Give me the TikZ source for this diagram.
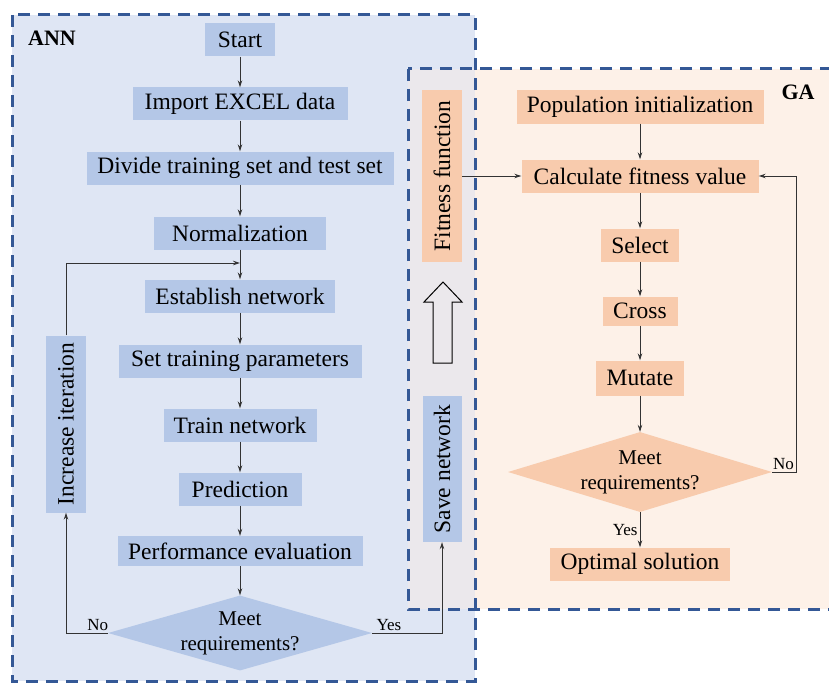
\documentclass[tikz,border=0pt]{standalone}
\usepackage{fontspec}
\setmainfont{Liberation Serif}
\usetikzlibrary{positioning,shapes.geometric,arrows.meta}
\definecolor{annback}{RGB}{223,230,244}
\definecolor{gaback}{RGB}{253,241,232}
\definecolor{midback}{RGB}{235,232,236}
\definecolor{annfill}{RGB}{180,199,231}
\definecolor{gafill}{RGB}{248,203,173}
\definecolor{framecol}{RGB}{52,88,150}
\tikzset{
  boxtext/.style={inner sep=0pt, minimum height=33pt, font=\fontsize{23.5}{28}\selectfont},
  annbox/.style={boxtext, fill=annfill},
  gabox/.style={boxtext, fill=gafill},
  decide/.style={diamond, aspect=3.5, inner sep=-2pt, minimum width=264pt, align=center, font=\fontsize{21}{25}\selectfont},
  link/.style={draw=black!80, line width=0.8pt, -{Stealth[length=7pt,width=4.5pt]}},
  lbl/.style={inner sep=2pt, font=\fontsize{17}{20}\selectfont},
  regionframe/.style={draw=framecol, line width=3pt, dash pattern=on 12pt off 8pt}
}
\begin{document}
\begin{tikzpicture}[x=1pt,y=-1pt]
    \useasboundingbox (0,0) rectangle (829,682);
    \clip (0,0) rectangle (829,682);
    \fill[annback] (12,15) rectangle (475,681);
    \fill[gaback] (408,69) rectangle (840,609);
    \fill[midback] (408,69) rectangle (475,609);
    \draw[regionframe] (12,15) rectangle (475,681);
    \draw[regionframe] (408,69) rectangle (840,609);
    \node[font=\bfseries\fontsize{22}{26}\selectfont] (anntitle) at (52,38) {ANN};
    \node[font=\bfseries\fontsize{22}{26}\selectfont] (gatitle) at (798,92) {GA};

    \node[annbox, minimum width=70pt] (start) at (240,40) {Start};
    \node[annbox, minimum width=215pt] (import) at (240,104) {Import EXCEL data};
    \node[annbox, minimum width=307pt] (divide) at (240,168) {Divide training set and test set};
    \node[annbox, minimum width=172pt] (norm) at (240,233) {Normalization};
    \node[annbox, minimum width=190pt] (estab) at (240,296) {Establish network};
    \node[annbox, minimum width=243pt] (param) at (240,361) {Set training parameters};
    \node[annbox, minimum width=153pt] (train) at (240,425) {Train network};
    \node[annbox, minimum width=123pt] (pred) at (240,489) {Prediction};
    \node[annbox, minimum width=245pt, minimum height=30pt] (perf) at (240,551) {Performance evaluation};
    \node[decide, fill=annfill, minimum height=75pt] (anndec) at (240,633) {Meet\\requirements?};
    \node[annbox, rotate=90, minimum width=177pt, minimum height=40pt] (iter) at (66,424) {Increase iteration};
    \node[annbox, rotate=90, minimum width=146pt, minimum height=39pt] (save) at (442,469) {Save network};
    \node[gabox, rotate=90, minimum width=171pt, minimum height=40pt] (fit) at (442,176) {Fitness function};
    \coordinate (join) at (240,263);

    \node[gabox, minimum width=247pt] (pop) at (640,107) {Population initialization};
    \node[gabox, minimum width=237pt] (calc) at (640,176) {Calculate fitness value};
    \node[gabox, minimum width=78pt] (sel) at (640,245) {Select};
    \node[gabox, minimum width=75pt, minimum height=29pt] (cross) at (640,311) {Cross};
    \node[gabox, minimum width=88pt, minimum height=35pt] (mut) at (640,378) {Mutate};
    \node[decide, fill=gafill, minimum height=80pt] (gadec) at (640,472) {Meet\\requirements?};
    \node[gabox, minimum width=180pt] (opt) at (640,564) {Optimal solution};

    \draw[fill=midback, line width=1pt] (433,363) -- (433,302) -- (424,302) -- (443,282) -- (462,302) -- (452,302) -- (452,363) -- cycle;

    \foreach \a/\b in {start/import, import/divide, divide/norm, norm/estab, estab/param, param/train, train/pred, pred/perf, perf/anndec, pop/calc, calc/sel, sel/cross, cross/mut, mut/gadec}
      \draw[link] (\a) -- (\b);
    \draw[link] (anndec.west) -| node[lbl, pos=0.12, above] {No} (iter.west);
    \draw[link] (iter.east) |- (join);
    \draw[link] (anndec.east) -| node[lbl, pos=0.12, above] {Yes} (save.west);
    \draw[link] (fit.south) -- (calc.west);
    \draw[link] (gadec) -- node[lbl, left] {Yes} (opt);
    \draw[link] (gadec.east) -- ++(24,0) node[lbl, above left] {No} |- (calc.east);
\end{tikzpicture}
\end{document}
